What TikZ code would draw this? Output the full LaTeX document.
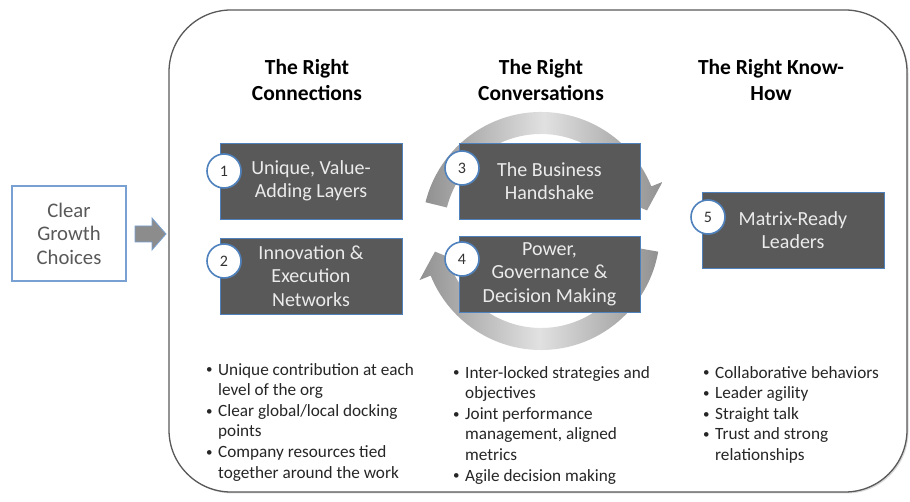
\documentclass[tikz,border=0pt]{standalone}
\usepackage{fontspec}
\setmainfont{Carlito}
\usetikzlibrary{shadows,calc}
\definecolor{boxfill}{RGB}{89,89,89}
\definecolor{boxline}{RGB}{79,129,189}
\definecolor{clearline}{RGB}{120,160,210}
\definecolor{ringdark}{RGB}{145,145,145}
\definecolor{ringlight}{RGB}{225,225,225}
\definecolor{bulltext}{RGB}{38,38,38}
\definecolor{grayText}{RGB}{89,89,89}
\definecolor{boxtext}{RGB}{235,235,235}
\newcommand{\bl}[1]{\makebox[12pt][l]{\raisebox{1.2pt}{\fontsize{13}{13}\selectfont\textbullet}}#1}
\newcommand{\cl}[1]{\hspace*{12pt}#1}
\tikzset{
  frame/.style={draw=black!65, line width=1.3pt, rounded corners=62pt, fill=white,
    drop shadow={shadow xshift=1.5pt, shadow yshift=-1.5pt, opacity=0.3}},
  clearbox/.style={draw=clearline, line width=1.2pt, fill=white, minimum width=114pt,
    minimum height=95pt, align=center, text=grayText, font=\fontsize{20.7}{23.5}\selectfont,
    drop shadow={shadow xshift=1pt, shadow yshift=-1pt, opacity=0.25}},
  darkbox/.style={draw=boxline, line width=0.8pt, fill=boxfill, minimum width=182pt,
    minimum height=76pt, align=center, text=boxtext, font=\fontsize{20}{23.5}\selectfont,
    drop shadow={shadow xshift=1.2pt, shadow yshift=-1.2pt, opacity=0.3}},
  numcircle/.style={circle, draw=boxline, line width=1.6pt, fill=white, minimum size=34pt,
    inner sep=0pt, text=black!80, font=\fontsize{16}{18}\selectfont,
    drop shadow={shadow xshift=0.8pt, shadow yshift=-0.8pt, opacity=0.3}},
  header/.style={align=center, text=black, font=\bfseries\fontsize{21.5}{26}\selectfont},
  bullets/.style={align=left, inner sep=0pt, anchor=north west, text=bulltext,
    font=\fontsize{17.2}{20.6}\selectfont},
  bigarrow/.style={fill=black!45, draw=clearline, line width=0.8pt},
  ringarrow/.style={left color=ringdark, right color=ringdark, middle color=ringlight}
}
\begin{document}
\begin{tikzpicture}[x=1pt,y=1pt]
\useasboundingbox (0,0) rectangle (910,502);
% outer frame
\node[frame, minimum width=738pt, minimum height=482pt] (frame) at (538,251) {};
% left box and arrow
\node[clearbox] (clear) at (69,268.5) {Clear\\Growth\\Choices};
\coordinate (ctip) at (166,268);
\draw[bigarrow] (135,276) -- (152,276) -- (152,284) -- (ctip) -- (152,252) -- (152,260) -- (135,260) -- cycle;
% headers
\node[header] (h1) at (307,422) {The Right\\Connections};
\node[header] (h2) at (541,422) {The Right\\Conversations};
\node[header] (h3) at (771,422) {The Right Know-\\How};
% ring arrows
\coordinate (c) at (541,271);
\shade[ringarrow] ($(c)+(166:119)$) arc[start angle=166, end angle=22, radius=119]
  -- ($(c)+(22:131)$) -- ($(c)+(11:108)$) -- ($(c)+(22:85)$) -- ($(c)+(22:97)$)
  arc[start angle=22, end angle=166, radius=97] -- cycle;
\shade[ringarrow] ($(c)+(-10:119)$) arc[start angle=-10, end angle=-158, radius=119]
  -- ($(c)+(-158:131)$) -- ($(c)+(-169:108)$) -- ($(c)+(-158:85)$) -- ($(c)+(-158:97)$)
  arc[start angle=-158, end angle=-10, radius=97] -- cycle;
% dark boxes
\node[darkbox] (b1) at (311,321) {Unique, Value-\\Adding Layers};
\node[darkbox] (b2) at (311,226) {Innovation \&\\Execution\\Networks};
\node[darkbox, minimum width=181pt] (b3) at (549.5,321) {The Business\\Handshake};
\node[darkbox, minimum width=181pt] (b4) at (549.5,228) {Power,\\Governance \&\\Decision Making};
\node[darkbox] (b5) at (793,272) {Matrix-Ready\\Leaders};
% number circles
\node[numcircle] (n1) at (224,331) {1};
\node[numcircle] (n2) at (224,241) {2};
\node[numcircle] (n3) at (462,334) {3};
\node[numcircle] (n4) at (462,243) {4};
\node[numcircle] (n5) at (708,285) {5};
% bullet lists
\node[bullets] (l1) at (206,141.5) {\strut\bl{Unique contribution at each}\\\cl{level of the org}\\\bl{Clear global/local docking}\\\cl{points}\\\bl{Company resources tied}\\\cl{together around the work}};
\node[bullets] (l2) at (453,138.5) {\strut\bl{Inter-locked strategies and}\\\cl{objectives}\\\bl{Joint performance}\\\cl{management, aligned}\\\cl{metrics}\\\bl{Agile decision making}};
\node[bullets] (l3) at (703,138.5) {\strut\bl{Collaborative behaviors}\\\bl{Leader agility}\\\bl{Straight talk}\\\bl{Trust and strong}\\\cl{relationships}};
\end{tikzpicture}
\end{document}
